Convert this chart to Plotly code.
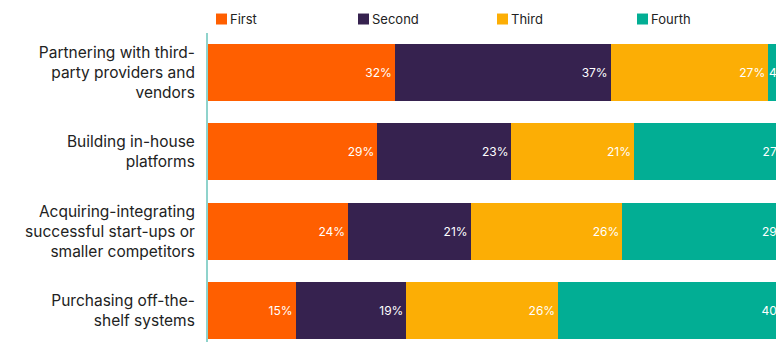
import plotly.graph_objects as go

# Survey categories (top to bottom) and ranking shares in percent
categories = [
    "Partnering with third-<br>party providers and<br>vendors",
    "Building in-house<br>platforms",
    "Acquiring-integrating<br>successful start-ups or<br>smaller competitors",
    "Purchasing off-the-<br>shelf systems",
]
series_names = ["First", "Second", "Third", "Fourth"]
first = [32, 29, 24, 15]
second = [37, 23, 21, 19]
third = [27, 21, 26, 26]
fourth = [4, 27, 29, 40]

colors = ["#FF5F00", "#36224F", "#FCAE05", "#02AE94"]
font_family = "Inter, 'Open Sans', sans-serif"
text_color = "#222222"

fig = go.Figure()
for name, vals, col in zip(series_names, [first, second, third, fourth], colors):
    fig.add_trace(go.Bar(
        y=categories,
        x=vals,
        name=name,
        orientation="h",
        marker=dict(color=col, line=dict(width=0)),
        text=[f"{v}%" for v in vals],
        textposition="inside",
        insidetextanchor="end",
        textangle=0,
        insidetextfont=dict(color="white", size=12, family=font_family),
        cliponaxis=True,
        hoverinfo="skip",
        showlegend=False,
    ))

# Compact legend row above the plot: swatch followed directly by its label
plot_left, plot_width = 208, 568
legend_x_px = [216, 358, 497, 637]
swatch = 11
for name, col, xpx in zip(series_names, colors, legend_x_px):
    x0 = (xpx - plot_left) / plot_width
    x1 = (xpx + swatch - plot_left) / plot_width
    fig.add_shape(
        type="rect", xref="paper", yref="paper",
        x0=x0, x1=x1, y0=1.0275, y1=1.063,
        fillcolor=col, line=dict(width=0),
    )
    fig.add_annotation(
        x=x1, y=1.046, xref="paper", yref="paper",
        text=name, showarrow=False,
        xanchor="left", yanchor="middle", xshift=1,
        font=dict(size=13, color=text_color, family=font_family),
    )

fig.update_layout(
    width=776,
    height=342,
    barmode="stack",
    bargap=0.28,
    plot_bgcolor="white",
    paper_bgcolor="white",
    margin=dict(l=208, r=0, t=33, b=0),
    font=dict(family=font_family, color=text_color, size=14),
    uniformtext=dict(mode="show", minsize=12),
    xaxis=dict(
        range=[0, 97.34],
        showticklabels=False,
        showgrid=False,
        zeroline=False,
        showline=False,
        fixedrange=True,
    ),
    yaxis=dict(
        categoryorder="array",
        categoryarray=categories,
        range=[3.397, -0.5],
        showgrid=False,
        zeroline=False,
        showline=True,
        linecolor="#8FD3CC",
        linewidth=2,
        ticks="outside",
        ticklen=8,
        tickcolor="rgba(0,0,0,0)",
        tickfont=dict(size=15.5, color=text_color, family=font_family),
        automargin=False,
    ),
)

fig.write_html("out.html")
